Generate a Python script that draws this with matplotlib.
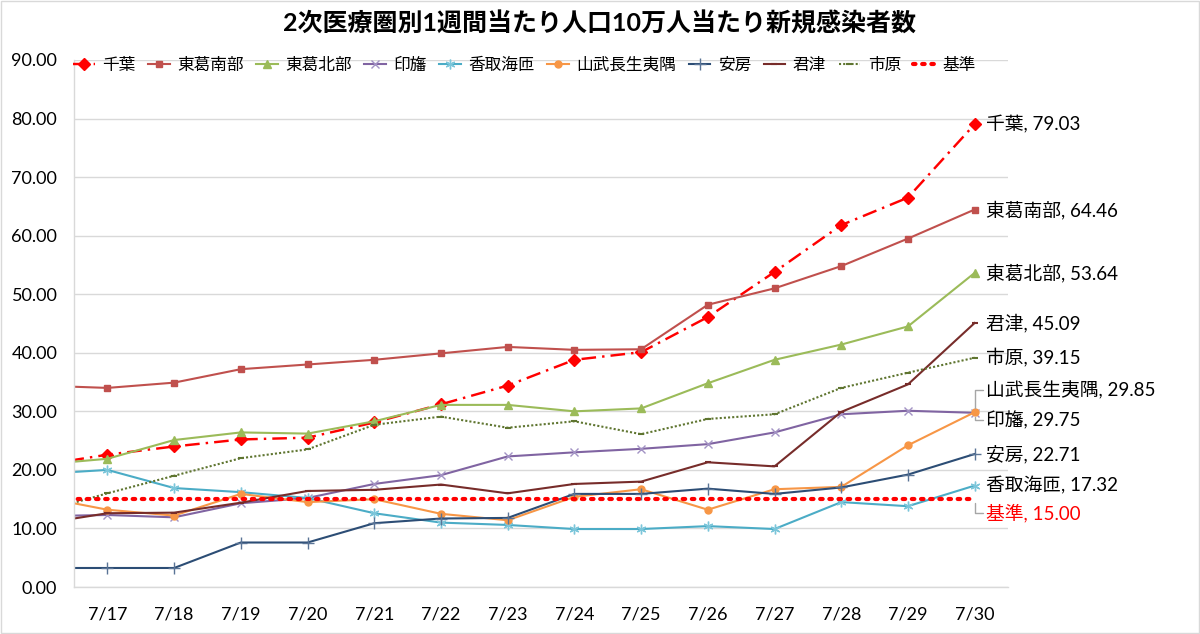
import matplotlib
matplotlib.use("Agg")
import matplotlib.pyplot as plt
import numpy as np
from matplotlib.patches import Rectangle

plt.rcParams['font.family'] = ['Lato', 'Noto Sans CJK JP', 'DejaVu Sans']

# 7/16 is only the left stub that runs into the plot edge
dates = ['7/16', '7/17', '7/18', '7/19', '7/20', '7/21', '7/22', '7/23',
         '7/24', '7/25', '7/26', '7/27', '7/28', '7/29', '7/30']

chiba    = [20.8, 22.6, 24.0, 25.2, 25.5, 28.1, 31.2, 34.4, 38.8, 40.1, 46.1, 53.8, 61.8, 66.5, 79.03]
katsu_s  = [34.4, 34.0, 34.9, 37.2, 38.0, 38.8, 39.9, 41.0, 40.5, 40.6, 48.2, 51.0, 54.8, 59.5, 64.46]
katsu_n  = [20.9, 21.9, 25.1, 26.4, 26.2, 28.3, 31.1, 31.1, 30.0, 30.5, 34.8, 38.8, 41.4, 44.5, 53.64]
inba     = [12.1, 12.3, 11.9, 14.3, 15.2, 17.6, 19.1, 22.3, 23.0, 23.6, 24.4, 26.4, 29.5, 30.1, 29.75]
katori   = [19.3, 20.0, 16.9, 16.2, 15.2, 12.6, 11.0, 10.6, 9.9, 9.9, 10.4, 9.9, 14.5, 13.8, 17.32]
sanbu    = [15.4, 13.2, 12.2, 15.9, 14.5, 15.0, 12.5, 11.4, 15.4, 16.7, 13.2, 16.7, 17.1, 24.2, 29.85]
awa      = [3.25, 3.25, 3.25, 7.6, 7.6, 10.9, 11.7, 11.8, 15.9, 15.9, 16.8, 15.9, 17.0, 19.2, 22.71]
kimitsu  = [10.8, 12.6, 12.7, 14.4, 16.4, 16.6, 17.5, 16.0, 17.6, 18.0, 21.3, 20.6, 29.9, 34.6, 45.09]
ichihara = [12.8, 16.0, 19.0, 22.0, 23.5, 27.7, 29.1, 27.2, 28.3, 26.1, 28.7, 29.5, 34.0, 36.6, 39.15]
kijun    = [15.0] * len(dates)

x = np.arange(len(dates))

fig = plt.figure(figsize=(12, 6.34), dpi=100)
ax = fig.add_axes([0.0617, 0.0741, 0.7783, 0.8313])

series = [
    ('千葉', chiba, dict(color='#FF0000', lw=1.75, ls=(0, (6, 2.5, 1, 2.5)), marker='D', ms=6.5)),
    ('東葛南部', katsu_s, dict(color='#C0504D', lw=1.5, marker='s', ms=5)),
    ('東葛北部', katsu_n, dict(color='#9BBB59', lw=1.5, marker='^', ms=6)),
    ('印旛', inba, dict(color='#8064A2', lw=1.5, marker='x', ms=6, mew=1, mec='#A393C4')),
    ('香取海匝', katori, dict(color='#4BACC6', lw=1.5, marker=(6, 2, 0), ms=7, mew=1, mec='#7CC6DA')),
    ('山武長生夷隅', sanbu, dict(color='#F79646', lw=1.5, marker='o', ms=5)),
    ('安房', awa, dict(color='#2C4D75', lw=1.5, marker='+', ms=8, mew=1, mec='#5A7496')),
    ('君津', kimitsu, dict(color='#772C2A', lw=1.5, marker='_', ms=4, mew=1.5)),
    ('市原', ichihara, dict(color='#5F7530', lw=1.5, ls=(0, (1, 1)), marker='_', ms=4, mew=1.5)),
    ('基準', kijun, dict(color='#FF0000', lw=3, ls=(0, (0.6, 1.6)), dash_capstyle='round')),
]

for name, vals, st in series:
    ax.plot(x, vals, label=name, **st)

ax.set_xlim(0.5, 14.5)
ax.set_ylim(0, 90)
ax.set_xticks(x[1:])
ax.set_xticklabels(dates[1:], fontsize=13)
ax.set_yticks(np.arange(0, 91, 10))
ax.set_yticklabels([f'{v:.2f}' for v in np.arange(0, 91, 10)], fontsize=13)
ax.tick_params(length=0, pad=14)
ax.tick_params(axis='y', pad=12)
ax.grid(axis='y', color='#D9D9D9', lw=1)
ax.set_axisbelow(True)
for s in ['top', 'right']:
    ax.spines[s].set_visible(False)
for s in ['left', 'bottom']:
    ax.spines[s].set_color('#D9D9D9')
    ax.spines[s].set_linewidth(1)

# end-of-line data labels
offsets = {'山武長生夷隅': 16, '印旛': -5.5, '基準': -10}
leaders = ['山武長生夷隅', '印旛', '基準']
for name, vals, st in series:
    dy = offsets.get(name, 0)
    kw = {}
    if name in leaders:
        kw['arrowprops'] = dict(arrowstyle='-', color='#A6A6A6', lw=1,
                                connectionstyle='angle,angleA=0,angleB=90,rad=0',
                                relpos=(0, 0.5), shrinkA=0, shrinkB=3)
    ax.annotate(f'{name}, {vals[-1]:.2f}', xy=(x[-1], vals[-1]),
                xytext=(8, dy), textcoords='offset points',
                fontsize=13.5, va='center', ha='left',
                color='#FF0000' if name == '基準' else 'black',
                annotation_clip=False, **kw)

fig.text(0.5, 0.963, '2次医療圏別1週間当たり人口10万人当たり新規感染者数',
         ha='center', va='center', fontsize=18, fontweight='bold')

fig.legend(loc='center', bbox_to_anchor=(0.437, 0.898), ncol=10, frameon=False,
           fontsize=12, handlelength=1.3, handletextpad=0.45, columnspacing=0.75,
           borderpad=0)

fig.add_artist(Rectangle((0.001, 0.001), 0.998, 0.997, transform=fig.transFigure,
                         fill=False, ec='#D9D9D9', lw=1))

fig.savefig('out.png', dpi=100)
